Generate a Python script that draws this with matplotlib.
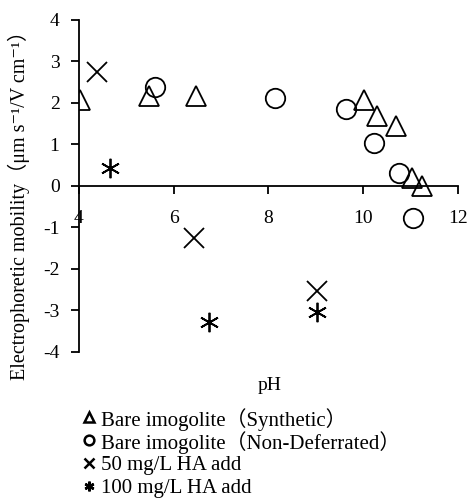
import matplotlib
matplotlib.use('Agg')
import matplotlib.pyplot as plt
from matplotlib.lines import Line2D

plt.rcParams['font.family'] = ['Liberation Serif', 'Noto Sans CJK JP', 'DejaVu Serif']
plt.rcParams['axes.unicode_minus'] = False

# data
synthetic_ph = [4.02, 5.48, 6.47, 10.02, 10.30, 10.70, 11.03, 11.25]
synthetic_mob = [2.08, 2.17, 2.17, 2.07, 1.68, 1.44, 0.19, 0.00]

nondef_ph = [5.60, 8.14, 9.64, 10.23, 10.76, 11.05]
nondef_mob = [2.39, 2.12, 1.85, 1.04, 0.32, -0.77]

ha50_ph = [4.38, 6.43, 9.02]
ha50_mob = [2.75, -1.26, -2.53]

ha100_ph = [4.65, 6.75, 9.03]
ha100_mob = [0.43, -3.28, -3.03]

labels = ['Bare imogolite（Synthetic）',
          'Bare imogolite（Non-Deferrated）',
          '50 mg/L HA add',
          '100 mg/L HA add']

xticks = [4, 6, 8, 10, 12]
yticks = [-4, -3, -2, -1, 0, 1, 2, 3, 4]

fig = plt.figure(figsize=(4.71, 4.98), dpi=100)
ax = fig.add_axes([0.1677, 0.2932, 0.8047, 0.6667])

ms = 14
mew = 1.3
markers = ['^', 'o', 'x', (6, 2, 0)]
series = [(synthetic_ph, synthetic_mob), (nondef_ph, nondef_mob),
          (ha50_ph, ha50_mob), (ha100_ph, ha100_mob)]
for (xs, ys), m in zip(series, markers):
    ax.plot(xs, ys, linestyle='none', marker=m, ms=ms,
            mfc='none', mec='black', mew=mew)

ax.set_xlim(4, 12)
ax.set_ylim(-4, 4)
ax.set_xticks(xticks)
ax.set_yticks(yticks)
ax.set_yticklabels([str(v) for v in yticks])

ax.spines['top'].set_visible(False)
ax.spines['right'].set_visible(False)
ax.spines['bottom'].set_position(('data', 0))
ax.spines['left'].set_linewidth(1.3)
ax.spines['bottom'].set_linewidth(1.3)
ax.tick_params(direction='out', length=6, width=1.3, labelsize=14)
ax.tick_params(axis='x', pad=11)
ax.tick_params(axis='y', pad=8)

fig.text(270 / 471, 1 - 385 / 498, 'pH', ha='center', va='center', fontsize=14)
fig.text(19 / 471, 1 - 200 / 498,
         'Electrophoretic mobility（μm s⁻¹/V cm⁻¹）',
         rotation=90, ha='center', va='center', fontsize=14.5)

# legend drawn row by row so the CJK brackets don't stretch the spacing
row_y = [417, 440, 463, 486]
for m, lab, y in zip(markers, labels, row_y):
    fy = 1 - y / 498
    fig.add_artist(Line2D([89 / 471], [fy], linestyle='none', marker=m, ms=7,
                          mfc='none', mec='black', mew=1.8,
                          transform=fig.transFigure))
    fig.text(101 / 471, fy, lab, ha='left', va='center_baseline', fontsize=15)

fig.savefig('out.png', dpi=100)
